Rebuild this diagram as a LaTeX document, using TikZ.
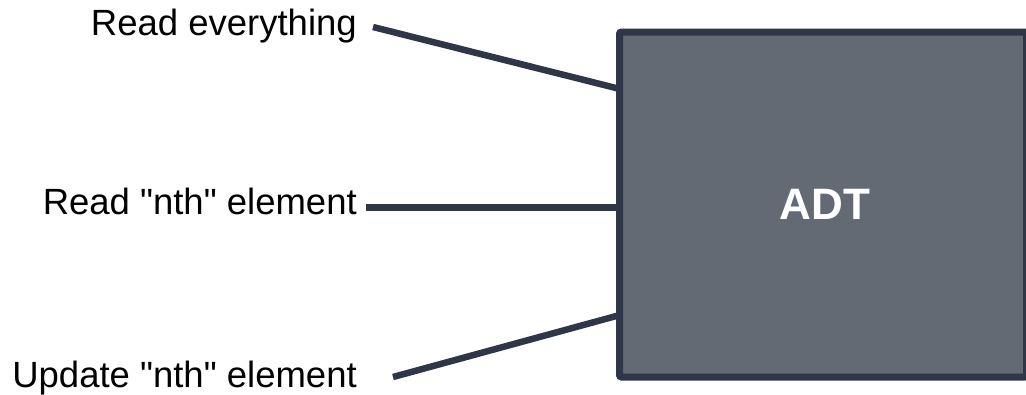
\documentclass[tikz,border=0pt]{standalone}
\usepackage{fontspec}
\setmainfont{Liberation Sans}[Ligatures=TeXOff]
\definecolor{boxfill}{HTML}{636A74}
\definecolor{ink}{HTML}{2E3648}
\begin{document}
\begin{tikzpicture}[x=1pt,y=-1pt,
  label/.style={anchor=base east,inner sep=0pt,font=\fontsize{36.5}{42}\selectfont,text=black},
  wire/.style={draw=ink,line width=6.5pt},
  adtbox/.style={draw=ink,fill=boxfill,line width=7pt,rounded corners=2pt,
    minimum width=407pt,minimum height=345pt,inner sep=0pt,outer sep=0pt,
    text=white,font=\bfseries\fontsize{44}{50}\selectfont}]
\useasboundingbox (0,0) rectangle (1026,394);
% operations offered by the abstract data type
\node[label] (readall) at (357,35) {Read everything};
\node[label] (readnth) at (357,214) {Read "nth" element};
\node[label] (update) at (357,387) {Update "nth" element};
% free ends of the connectors, next to each label
\coordinate (s1) at (373,27);
\coordinate (s2) at (366,207.5);
\coordinate (s3) at (393,377);
% entry points on the left side of the box
\coordinate (e1) at (620,89);
\coordinate (e2) at (620,207.5);
\coordinate (e3) at (620,315);
\draw[wire] (s1) -- (e1);
\draw[wire] (s2) -- (e2);
\draw[wire] (s3) -- (e3);
% the abstract data type itself
\node[adtbox] (adt) at (823,204.5) {\hspace{4pt}ADT};
\end{tikzpicture}
\end{document}
